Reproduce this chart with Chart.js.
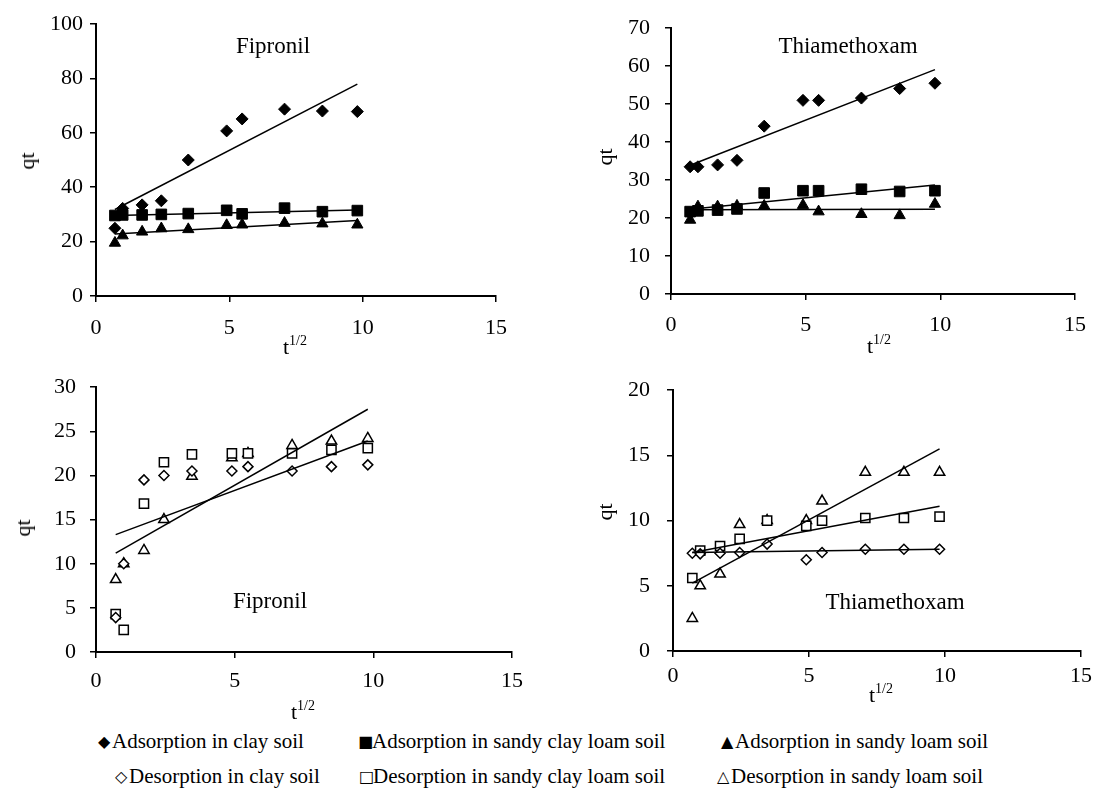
<!DOCTYPE html>
<html>
<head>
<meta charset="utf-8">
<script src="https://cdn.jsdelivr.net/npm/chart.js@4.4.1/dist/chart.umd.min.js"></script>
<style>
  body { margin: 0; background: #fff; }
  #wrap { position: relative; width: 1098px; height: 793px; background: #fff;
          font-family: 'Liberation Serif', 'Times New Roman', serif; color: #000; overflow: hidden; }
  canvas { position: absolute; }
  .txt { position: absolute; white-space: nowrap; transform: translate(-50%, -50%); font-size: 23px; line-height: 1; }
  .qt { transform: translate(-50%, -50%) rotate(-90deg); font-size: 22px; }
  .tx sup { font-size: 14px; vertical-align: 9px; line-height: 0; }
  .leg { position: absolute; white-space: nowrap; font-size: 21px; line-height: 1; transform: translateY(-50%); }
  .leg span { font-family: 'DejaVu Sans', sans-serif; font-size: 16px; display: inline-block; width: 14px; vertical-align: 1px; }
</style>
</head>
<body>
<div id="wrap">
  <canvas id="c1" width="540" height="360" style="left:0;top:0"></canvas>
  <canvas id="c2" width="538" height="360" style="left:560px;top:0"></canvas>
  <canvas id="c3" width="540" height="360" style="left:0;top:360px"></canvas>
  <canvas id="c4" width="538" height="360" style="left:560px;top:360px"></canvas>

  <div class="txt" style="left:273px;top:45px">Fipronil</div>
  <div class="txt" style="left:848px;top:45px">Thiamethoxam</div>
  <div class="txt" style="left:270px;top:600px">Fipronil</div>
  <div class="txt" style="left:895px;top:601px">Thiamethoxam</div>

  <div class="txt qt" style="left:27px;top:161px">qt</div>
  <div class="txt qt" style="left:605px;top:157px">qt</div>
  <div class="txt qt" style="left:23px;top:528px">qt</div>
  <div class="txt qt" style="left:605px;top:512px">qt</div>

  <div class="txt tx" style="left:295px;top:347px;font-size:22px">t<sup>1/2</sup></div>
  <div class="txt tx" style="left:879px;top:346px;font-size:22px">t<sup>1/2</sup></div>
  <div class="txt tx" style="left:303px;top:712px;font-size:22px">t<sup>1/2</sup></div>
  <div class="txt tx" style="left:881px;top:695px;font-size:22px">t<sup>1/2</sup></div>

  <div class="leg" style="left:98px;top:741px"><span>&#9670;</span>Adsorption in clay soil</div>
  <div class="leg" style="left:358px;top:741px"><span>&#9632;</span>Adsorption in sandy clay loam soil</div>
  <div class="leg" style="left:721px;top:741px"><span>&#9650;</span>Adsorption in sandy loam soil</div>
  <div class="leg" style="left:115px;top:776px"><span>&#9671;</span>Desorption in clay soil</div>
  <div class="leg" style="left:359px;top:776px"><span>&#9633;</span>Desorption in sandy clay loam soil</div>
  <div class="leg" style="left:717px;top:776px"><span>&#9651;</span>Desorption in sandy loam soil</div>
</div>

<script>
// square root of time
const sqrtT = [0.71, 1, 1.73, 2.45, 3.46, 4.9, 5.48, 7.07, 8.49, 9.8];
const trendX = [0.71, 9.8];

// Fipronil adsorption
const fipAdsClay = [24.9, 32.2, 33.5, 35, 50, 60.7, 65.1, 68.7, 68, 67.8];
const fipAdsSCL = [29.6, 29.8, 29.8, 30, 30.3, 31.5, 30.2, 32.3, 31, 31.4];
const fipAdsSL = [19.5, 22.2, 23.6, 24.8, 24.5, 26, 26.2, 26.8, 26.6, 26.2];
const fipAdsClayTrend = [31.8, 77.9];
const fipAdsSCLTrend = [29.6, 31.6];
const fipAdsSLTrend = [22.8, 27.8];

// Thiamethoxam adsorption
const thiAdsClay = [33.5, 33.5, 34.0, 35.2, 44.2, 51.0, 51.0, 51.6, 54.1, 55.5];
const thiAdsSCL = [21.7, 21.9, 22.1, 22.4, 26.6, 27.2, 27.2, 27.6, 27.0, 27.2];
const thiAdsSL = [19.5, 23, 23, 23.2, 23.2, 23.4, 21.7, 21, 20.7, 23.7];
const thiAdsClayTrend = [33.9, 59.1];
const thiAdsSCLTrend = [22.3, 28.7];
const thiAdsSLTrend = [22.2, 22.3];

// Fipronil desorption
const fipDesClay = [3.9, 10, 19.5, 20, 20.5, 20.5, 21, 20.5, 21, 21.2];
const fipDesSCL = [4.3, 2.5, 16.8, 21.5, 22.4, 22.5, 22.5, 22.5, 22.9, 23.1];
const fipDesSL = [8.2, 10, 11.5, 15, 19.9, 22, 22.5, 23.4, 23.9, 24.2];
const fipDesSCLTrend = [13.3, 23.9];
const fipDesSLTrend = [11.2, 27.5];

// Thiamethoxam desorption
const thiDesClay = [7.5, 7.45, 7.5, 7.55, 8.2, 7.0, 7.55, 7.8, 7.8, 7.8];
const thiDesSCL = [5.6, 7.7, 8.05, 8.6, 10.0, 9.6, 10.0, 10.2, 10.2, 10.3];
const thiDesSL = [2.5, 5.0, 5.9, 9.7, 10.0, 10.0, 11.5, 13.7, 13.7, 13.7];
const thiDesClayTrend = [7.55, 7.8];
const thiDesSCLTrend = [7.55, 11.1];
const thiDesSLTrend = [5.2, 15.5];

const FONT = "'Liberation Serif', 'Times New Roman', serif";

function pts(ys) { return sqrtT.map((x, i) => ({ x: x, y: ys[i] })); }
function trend(ys) { return trendX.map((x, i) => ({ x: x, y: ys[i] })); }

const marks = {
  adsClay: { pointStyle: 'rectRot', pointRadius: 6, backgroundColor: '#000', borderColor: '#000', borderWidth: 1 },
  adsSCL: { pointStyle: 'rect', pointRadius: 7.5, backgroundColor: '#000', borderColor: '#000', borderWidth: 1 },
  adsSL: { pointStyle: 'triangle', pointRadius: 6.5, backgroundColor: '#000', borderColor: '#000', borderWidth: 1 },
  desClay: { pointStyle: 'rectRot', pointRadius: 5, backgroundColor: '#fff', borderColor: '#000', borderWidth: 1.5 },
  desSCL: { pointStyle: 'rect', pointRadius: 6.5, backgroundColor: '#fff', borderColor: '#000', borderWidth: 1.5 },
  desSL: { pointStyle: 'triangle', pointRadius: 6, backgroundColor: '#fff', borderColor: '#000', borderWidth: 1.5 }
};

function scatterSet(ys, mark) {
  return Object.assign({ data: pts(ys), showLine: false, pointHoverRadius: 0 }, mark);
}
function trendSet(ys) {
  return { data: trend(ys), showLine: true, pointRadius: 0, borderColor: '#000', borderWidth: 1.5, fill: false };
}

// box = canvas position, area = plot area in page pixels
function panel(id, box, area, yMax, yStep, datasets, yPad, xPad) {
  new Chart(document.getElementById(id), {
    type: 'scatter',
    data: { datasets: datasets },
    options: {
      responsive: false,
      animation: false,
      events: [],
      layout: { padding: { left: 0, top: area.top - box.top, right: box.left + box.w - area.right, bottom: 0 } },
      plugins: { legend: { display: false }, tooltip: { enabled: false } },
      scales: {
        x: {
          type: 'linear', min: 0, max: 15,
          ticks: { stepSize: 5, color: '#000', padding: xPad, font: { family: FONT, size: 22 }, maxRotation: 0 },
          grid: { drawOnChartArea: false, drawTicks: true, tickLength: 6, color: '#000', lineWidth: 1.5 },
          border: { color: '#000', width: 2 },
          afterFit: s => { s.height = box.top + box.h - area.bottom; }
        },
        y: {
          min: 0, max: yMax,
          ticks: { stepSize: yStep, color: '#000', padding: yPad, font: { family: FONT, size: 22 } },
          grid: { drawOnChartArea: false, drawTicks: true, tickLength: 6, color: '#000', lineWidth: 1.5 },
          border: { color: '#000', width: 2 },
          afterFit: s => { s.width = area.left - box.left; }
        }
      }
    }
  });
}

panel('c1', { left: 0, top: 0, w: 540, h: 360 }, { left: 96, top: 24, right: 496, bottom: 296 }, 100, 20, [
  trendSet(fipAdsClayTrend), trendSet(fipAdsSCLTrend), trendSet(fipAdsSLTrend),
  scatterSet(fipAdsClay, marks.adsClay), scatterSet(fipAdsSCL, marks.adsSCL), scatterSet(fipAdsSL, marks.adsSL)
], 7, 13);

panel('c2', { left: 560, top: 0, w: 538, h: 360 }, { left: 671, top: 24, right: 1086, bottom: 294 }, 70, 10, [
  trendSet(thiAdsClayTrend), trendSet(thiAdsSCLTrend), trendSet(thiAdsSLTrend),
  scatterSet(thiAdsClay, marks.adsClay), scatterSet(thiAdsSCL, marks.adsSCL), scatterSet(thiAdsSL, marks.adsSL)
], 15, 12);

panel('c3', { left: 0, top: 360, w: 540, h: 360 }, { left: 96, top: 372, right: 512, bottom: 652 }, 30, 5, [
  trendSet(fipDesSCLTrend), trendSet(fipDesSLTrend),
  scatterSet(fipDesClay, marks.desClay), scatterSet(fipDesSCL, marks.desSCL), scatterSet(fipDesSL, marks.desSL)
], 14, 10);

panel('c4', { left: 560, top: 360, w: 538, h: 360 }, { left: 673, top: 372, right: 1086, bottom: 651 }, 20, 5, [
  trendSet(thiDesClayTrend), trendSet(thiDesSCLTrend), trendSet(thiDesSLTrend),
  scatterSet(thiDesClay, marks.desClay), scatterSet(thiDesSCL, marks.desSCL), scatterSet(thiDesSL, marks.desSL)
], 17, 6);
</script>
</body>
</html>
